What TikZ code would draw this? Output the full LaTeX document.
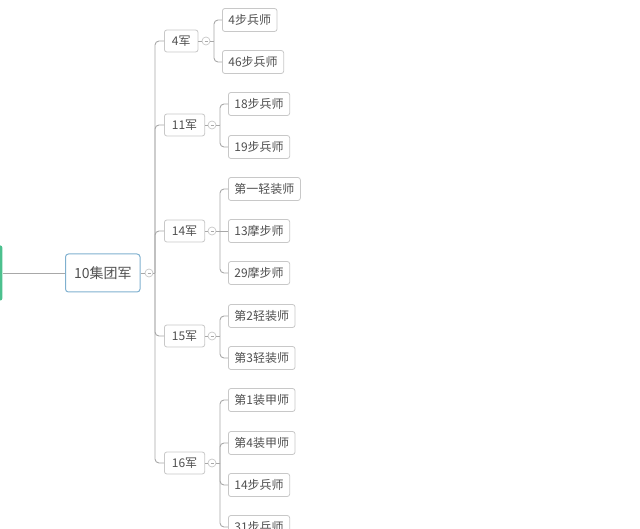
\documentclass[tikz,border=0pt]{standalone}
\usepackage{fontspec}
\setmainfont{Noto Sans CJK SC}
\definecolor{linegray}{HTML}{A8A8A8}
\definecolor{boxgray}{HTML}{C8C8C8}
\definecolor{textgray}{HTML}{505050}
\definecolor{rootblue}{HTML}{7FB0CF}
\definecolor{topgreen}{HTML}{4CC08E}
\tikzset{
    link/.style={draw=linegray, line width=0.9pt, rounded corners=4pt},
    corps/.style={draw=boxgray, line width=0.8pt, rounded corners=2.5pt, fill=white, anchor=west,
        minimum height=22pt, inner xsep=7.5pt, inner ysep=0pt, font=\fontsize{12}{12}\selectfont, text=textgray},
    division/.style={corps, minimum height=23pt, inner xsep=6pt},
    knob/.style={circle, draw=boxgray, line width=0.7pt, fill=white, minimum size=8pt, inner sep=0pt,
        path picture={\draw[linegray, line width=0.6pt] ([xshift=-1.5pt]path picture bounding box.center) -- ([xshift=1.5pt]path picture bounding box.center);}}
}
\begin{document}
\begin{tikzpicture}[x=1pt, y=-1pt]
    \useasboundingbox (0,0) rectangle (640,529);

    % Parent edge and root
    \node[anchor=east, fill=topgreen, rounded corners=2pt, minimum width=8pt, minimum height=55pt, inner sep=0pt] (top) at (2.5,273) {};
    \node[draw=rootblue, line width=1pt, rounded corners=3pt, anchor=west, minimum height=38pt, inner xsep=8.5pt,
        font=\fontsize{14}{14}\selectfont, text=textgray] (root) at (65,273) {10集团军};
    \draw[link] (top) -- (root);
    \node[knob] (k0) at (149,273) {};
    \draw[link] (root) -- (k0);
    \coordinate (t0) at (155,273);
    \draw[link] (k0) -- (t0);

    % Corps
    \node[corps] (a4) at (164,41) {4军};
    \node[corps] (a11) at (164,125) {11军};
    \node[corps] (a14) at (164,231) {14军};
    \node[corps] (a15) at (164,336) {15军};
    \node[corps] (a16) at (164,463) {16军};
    \draw[link] (t0) |- (a4.west);
    \draw[link] (t0) |- (a11.west);
    \draw[link] (t0) |- (a14.west);
    \draw[link] (t0) |- (a15.west);
    \draw[link] (t0) |- (a16.west);

    % Knobs and junctions
    \node[knob] (k4) at (206,41) {};
    \node[knob] (k11) at (212,125) {};
    \node[knob] (k14) at (212,231) {};
    \node[knob] (k15) at (212,336) {};
    \node[knob] (k16) at (212,463) {};
    \coordinate (j4) at (214,41);
    \coordinate (j11) at (220,125);
    \coordinate (j14) at (220,231);
    \coordinate (j15) at (220,336);
    \coordinate (j16) at (220,463);
    \draw[link] (a4) -- (k4) -- (j4);
    \draw[link] (a11) -- (k11) -- (j11);
    \draw[link] (a14) -- (k14) -- (j14);
    \draw[link] (a15) -- (k15) -- (j15);
    \draw[link] (a16) -- (k16) -- (j16);

    % Divisions
    \node[division] (d1) at (222,20) {4步兵师};
    \node[division] (d2) at (222,62) {46步兵师};
    \node[division] (d3) at (228,104) {18步兵师};
    \node[division] (d4) at (228,147) {19步兵师};
    \node[division] (d5) at (228,189) {第一轻装师};
    \node[division] (d6) at (228,231) {13摩步师};
    \node[division] (d7) at (228,273) {29摩步师};
    \node[division] (d8) at (228,316) {第2轻装师};
    \node[division] (d9) at (228,358) {第3轻装师};
    \node[division] (d10) at (228,400) {第1装甲师};
    \node[division] (d11) at (228,443) {第4装甲师};
    \node[division] (d12) at (228,485) {14步兵师};
    \node[division] (d13) at (228,527) {31步兵师};
    \draw[link] (j4) |- (d1.west);
    \draw[link] (j4) |- (d2.west);
    \draw[link] (j11) |- (d3.west);
    \draw[link] (j11) |- (d4.west);
    \draw[link] (j14) |- (d5.west);
    \draw[link] (j14) -- (d6.west);
    \draw[link] (j14) |- (d7.west);
    \draw[link] (j15) |- (d8.west);
    \draw[link] (j15) |- (d9.west);
    \draw[link] (j16) |- (d10.west);
    \draw[link] (j16) |- (d11.west);
    \draw[link] (j16) |- (d12.west);
    \draw[link] (j16) |- (d13.west);
\end{tikzpicture}
\end{document}
